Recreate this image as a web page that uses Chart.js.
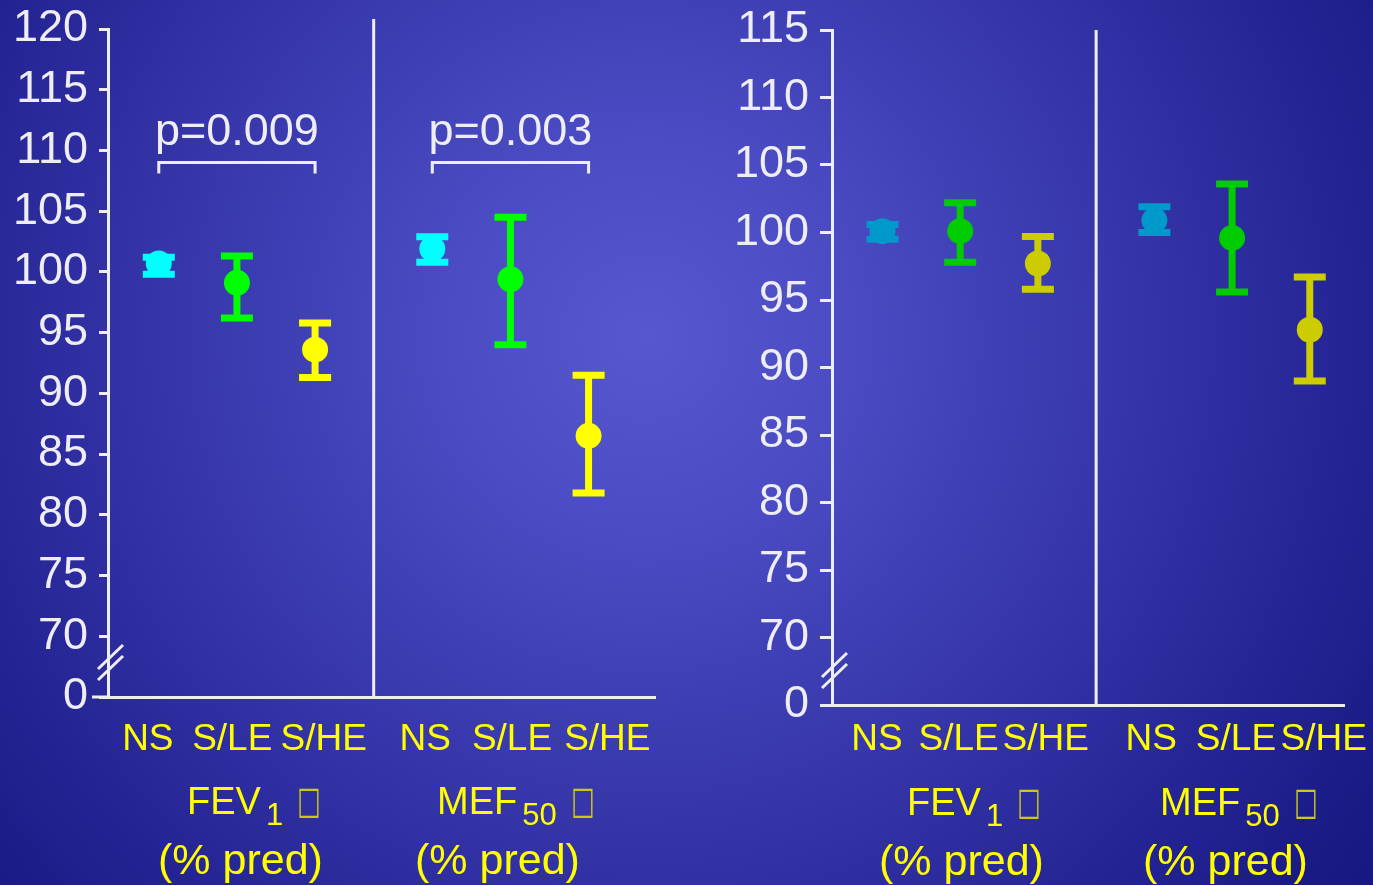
<!DOCTYPE html>
<html>
<head>
<meta charset="utf-8">
<script src="https://cdn.jsdelivr.net/npm/chart.js@4.4.0/dist/chart.umd.min.js"></script>
<style>
  html, body { margin: 0; padding: 0; }
  body {
    width: 1373px; height: 885px; overflow: hidden; position: relative;
    background: radial-gradient(circle at 47% 38%, #5757d0 0%, #4b4bc3 22%, #3838ac 50%, #222292 80%, #17177f 100%);
    font-family: "Liberation Sans", Arial, sans-serif;
  }
  canvas { position: absolute; }
  #leftChart { left: 0; top: -9px; }
  #rightChart { left: 700px; top: -8px; }
  .lbl { position: absolute; color: #ffff00; white-space: nowrap; }
  .name { font-size: 38px; line-height: 36px; }
  .name .sub { font-size: 31px; position: relative; top: 11px; margin-left: 5px; }
  .name .box { display: inline-block; margin-left: 14px; font-size: 40px; color: #caca10;
               font-family: "DejaVu Sans", sans-serif; transform: scale(0.62, 0.95); transform-origin: left center; }
  .unit { font-size: 43px; line-height: 44px; }
</style>
</head>
<body>
<canvas id="leftChart" width="700" height="894"></canvas>
<canvas id="rightChart" width="673" height="893"></canvas>

<div class="lbl name" style="left:187px; top:782px">FEV<span class="sub">1</span><span class="box">□</span></div>
<div class="lbl unit" style="left:158px; top:837px">(% pred)</div>
<div class="lbl name" style="left:437px; top:782px">MEF<span class="sub">50</span><span class="box">□</span></div>
<div class="lbl unit" style="left:415px; top:837px">(% pred)</div>

<div class="lbl name" style="left:907px; top:783px">FEV<span class="sub">1</span><span class="box">□</span></div>
<div class="lbl unit" style="left:879px; top:838px">(% pred)</div>
<div class="lbl name" style="left:1160px; top:783px">MEF<span class="sub">50</span><span class="box">□</span></div>
<div class="lbl unit" style="left:1143px; top:838px">(% pred)</div>

<script>
// groups shown under each measure
const groups = ['NS', 'S/LE', 'S/HE'];

// left panel: mean with lower / upper ends of the error bar
const leftFevMean  = [100.7, 99.1, 93.6];
const leftFevLow   = [99.8, 96.2, 91.3];
const leftFevHigh  = [101.2, 101.3, 95.8];
const leftMefMean  = [101.9, 99.4, 86.5];
const leftMefLow   = [100.8, 94.0, 81.8];
const leftMefHigh  = [102.9, 104.5, 91.5];

// right panel
const rightFevMean = [100.1, 100.1, 97.7];
const rightFevLow  = [99.5, 97.8, 95.8];
const rightFevHigh = [100.6, 102.2, 99.7];
const rightMefMean = [100.9, 99.6, 92.8];
const rightMefLow  = [100.0, 95.6, 89.0];
const rightMefHigh = [101.9, 103.6, 96.7];

// y tick labels (axis is broken between 0 and 70)
const leftYTicks  = [0, 70, 75, 80, 85, 90, 95, 100, 105, 110, 115, 120];
const rightYTicks = [0, 70, 75, 80, 85, 90, 95, 100, 105, 110, 115];

// significance brackets on the left panel
const pLabels = ['p=0.009', 'p=0.003'];

// ---- layout ----
const ZERO_POS = 65;                       // where "0" sits on the broken axis
const slots = [0.65, 1.65, 2.65, 4.15, 5.15, 6.15];
const leftLabelSlots  = [0.51, 1.59, 2.76, 4.06, 5.17, 6.39];
const rightLabelSlots = [0.58, 1.63, 2.75, 4.11, 5.20, 6.33];
const WHITE = '#eeeef2';
const FONT = '"Liberation Sans", Arial, sans-serif';

const leftColors  = ['#00ffff', '#00ff00', '#ffff00'];
const rightColors = ['#0099cc', '#00cc00', '#cccc00'];

Chart.defaults.font.family = FONT;

const errorBars = {
  id: 'errorBars',
  beforeDatasetsDraw(chart) {
    const { ctx, scales: { x, y } } = chart;
    chart.data.datasets.forEach(ds => {
      ds.data.forEach((pt, i) => {
        const px = x.getPixelForValue(pt.x);
        const top = y.getPixelForValue(ds.errHigh[i]);
        const bot = y.getPixelForValue(ds.errLow[i]);
        ctx.save();
        ctx.strokeStyle = ds.pointBackgroundColor[i];
        ctx.lineWidth = 7;
        ctx.beginPath();
        ctx.moveTo(px, top); ctx.lineTo(px, bot);
        ctx.moveTo(px - 16, top); ctx.lineTo(px + 16, top);
        ctx.moveTo(px - 16, bot); ctx.lineTo(px + 16, bot);
        ctx.stroke();
        ctx.restore();
      });
    });
  }
};

const decor = {
  id: 'decor',
  beforeDatasetsDraw(chart, args, opts) {
    const { ctx, chartArea: area, scales: { x, y } } = chart;
    ctx.save();
    ctx.strokeStyle = WHITE;
    ctx.fillStyle = WHITE;
    ctx.lineWidth = 3;

    // divider between FEV1 and MEF50
    const dx = x.getPixelForValue(opts.divider);
    ctx.beginPath();
    ctx.moveTo(dx, area.top - opts.dividerOver);
    ctx.lineTo(dx, area.bottom);
    ctx.stroke();

    // baseline running out past the y axis
    if (opts.zeroExtend) {
      ctx.beginPath();
      ctx.moveTo(area.left - opts.zeroExtend, area.bottom);
      ctx.lineTo(area.left, area.bottom);
      ctx.stroke();
    }

    // axis break marks
    [28, 17].forEach(off => {
      ctx.beginPath();
      ctx.moveTo(area.left - 10, area.bottom - off);
      ctx.lineTo(area.left + 15, area.bottom - off - 24);
      ctx.stroke();
    });

    // brackets with p values
    (opts.brackets || []).forEach(b => {
      const x1 = x.getPixelForValue(slots[b.from]);
      const x2 = x.getPixelForValue(slots[b.to]);
      const by = y.getPixelForValue(b.at);
      ctx.beginPath();
      ctx.moveTo(x1, by + 11);
      ctx.lineTo(x1, by);
      ctx.lineTo(x2, by);
      ctx.lineTo(x2, by + 11);
      ctx.stroke();
      ctx.font = '45px ' + FONT;
      ctx.textAlign = 'center';
      ctx.textBaseline = 'alphabetic';
      ctx.fillText(b.label, (x1 + x2) / 2, by - 18);
    });
    ctx.restore();
  }
};

function points(means, offset) {
  return means.map((m, i) => ({ x: slots[offset + i], y: m }));
}

function makePanel(canvasId, cfg) {
  const datasets = [
    { data: points(cfg.fevMean, 0), errLow: cfg.fevLow, errHigh: cfg.fevHigh,
      pointBackgroundColor: cfg.colors, pointBorderWidth: 0 },
    { data: points(cfg.mefMean, 3), errLow: cfg.mefLow, errHigh: cfg.mefHigh,
      pointBackgroundColor: cfg.colors, pointBorderWidth: 0 }
  ];
  return new Chart(document.getElementById(canvasId), {
    type: 'scatter',
    data: { datasets },
    plugins: [errorBars, decor],
    options: {
      responsive: false,
      animation: false,
      events: [],
      layout: { padding: { top: cfg.padTop, right: cfg.padRight, left: 0, bottom: 0 } },
      elements: { point: { radius: 13, hoverRadius: 13 } },
      plugins: {
        legend: { display: false },
        tooltip: { enabled: false },
        decor: {
          divider: 3.4,
          dividerOver: cfg.dividerOver,
          zeroExtend: cfg.zeroExtend,
          brackets: cfg.brackets
        }
      },
      scales: {
        x: {
          type: 'linear',
          min: 0,
          max: cfg.xMax,
          afterBuildTicks: s => { s.ticks = cfg.labelSlots.map(v => ({ value: v })); },
          afterFit: s => { s.height = cfg.xHeight; },
          ticks: {
            autoSkip: false,
            maxRotation: 0,
            padding: cfg.xPad,
            color: '#ffff00',
            font: { size: 37 },
            callback: (v, i) => groups[i % 3]
          },
          grid: { display: false },
          border: { display: true, color: WHITE, width: 3 }
        },
        y: {
          type: 'linear',
          min: ZERO_POS,
          max: cfg.yTicks[cfg.yTicks.length - 1],
          afterBuildTicks: s => { s.ticks = cfg.yTicks.map(v => ({ value: v === 0 ? ZERO_POS : v })); },
          afterFit: s => { s.width = cfg.yWidth; },
          ticks: {
            padding: 11,
            color: WHITE,
            font: { size: 45 },
            callback: v => (v === ZERO_POS ? '0' : v)
          },
          grid: {
            drawOnChartArea: false,
            drawTicks: true,
            tickLength: cfg.tickLen,
            color: WHITE,
            lineWidth: 3
          },
          border: { display: true, color: WHITE, width: 3 }
        }
      }
    }
  });
}

makePanel('leftChart', {
  fevMean: leftFevMean, fevLow: leftFevLow, fevHigh: leftFevHigh,
  mefMean: leftMefMean, mefLow: leftMefLow, mefHigh: leftMefHigh,
  colors: leftColors,
  labelSlots: leftLabelSlots,
  yTicks: leftYTicks,
  xMax: 7,
  yWidth: 108,
  xHeight: 188,
  xPad: 13,
  padTop: 19,
  padRight: 45,
  tickLen: 9,
  dividerOver: 10,
  zeroExtend: 16,
  brackets: [
    { from: 0, to: 2, at: 109.0, label: pLabels[0] },
    { from: 3, to: 5, at: 109.0, label: pLabels[1] }
  ]
});

makePanel('rightChart', {
  fevMean: rightFevMean, fevLow: rightFevLow, fevHigh: rightFevHigh,
  mefMean: rightMefMean, mefLow: rightMefLow, mefHigh: rightMefHigh,
  colors: rightColors,
  labelSlots: rightLabelSlots,
  yTicks: rightYTicks,
  xMax: 6.6,
  yWidth: 132,
  xHeight: 180,
  xPad: 5,
  padTop: 21,
  padRight: 26,
  tickLen: 12,
  dividerOver: 0,
  zeroExtend: 0,
  brackets: []
});
</script>
</body>
</html>
